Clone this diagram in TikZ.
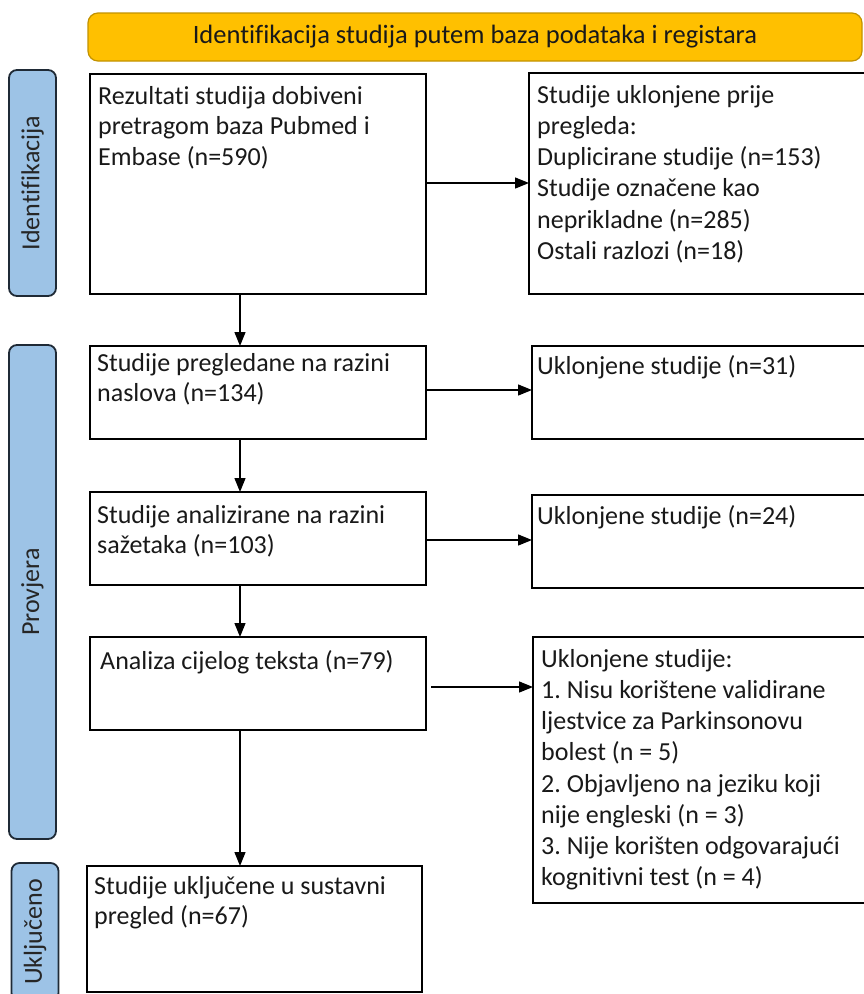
\documentclass[tikz,border=0pt]{standalone}
\usepackage{fontspec}
\setmainfont{Carlito}[Ligatures=CommonOff]
\usetikzlibrary{arrows.meta}
\definecolor{bangold}{HTML}{FFC000}
\definecolor{banline}{HTML}{C29200}
\definecolor{sideblue}{HTML}{9DC3E6}
\definecolor{sideline}{HTML}{1F2A36}
\newcommand{\mystrut}{\rule{0pt}{20pt}}
\frenchspacing
\begin{document}
\begin{tikzpicture}[x=1pt,y=-1pt,
  box/.style={draw=black,line width=1.8pt,anchor=north west,inner sep=0pt,outer sep=0pt},
  txt/.style={anchor=north west,inner sep=0pt,align=left,font=\fontsize{26}{30.5}\selectfont\frenchspacing,text=black!90},
  wide/.style={font=\fontsize{26}{31.2}\selectfont\frenchspacing},
  side/.style={draw=sideline,fill=sideblue,line width=1.8pt,rounded corners=8pt,rotate=90,inner sep=0pt,font=\fontsize{26}{30}\selectfont,text=black!85},
  banner/.style={draw=banline,fill=bangold,line width=1.2pt,rounded corners=10pt,inner sep=0pt,font=\fontsize{26.5}{30}\selectfont,text=black!90},
  arr/.style={line width=1.3pt,-{Triangle[length=14pt,width=11pt]}}]
\useasboundingbox (0,0) rectangle (863,994);

% banner
\node[banner,minimum width=774pt,minimum height=48pt] (ban) at (475,37) {Identifikacija studija putem baza podataka i registara};

% side labels
\node[side,minimum width=226pt,minimum height=47pt] (s1) at (32.5,183) {Identifikacija};
\node[side,minimum width=494pt,minimum height=47pt] (s2) at (32.5,592) {Provjera};
\node[side,minimum width=138pt,minimum height=47pt] (s3) at (35,932) {Uključeno};

% left boxes
\node[box,minimum width=336pt,minimum height=220pt] (b1) at (90,74) {};
\node[box,minimum width=336pt,minimum height=93pt] (b2) at (90,346) {};
\node[box,minimum width=336pt,minimum height=93pt] (b3) at (90,492) {};
\node[box,minimum width=336pt,minimum height=93pt] (b4) at (90,637) {};
\node[box,minimum width=335pt,minimum height=126pt] (b5) at (87,866) {};

% right boxes
\node[box,minimum width=346pt,minimum height=221pt] (r1) at (529,73) {};
\node[box,minimum width=343pt,minimum height=93pt] (r2) at (532,346) {};
\node[box,minimum width=343pt,minimum height=93pt] (r3) at (532,495) {};
\node[box,minimum width=342pt,minimum height=266pt] (r4) at (533,637) {};

% texts
\node[txt] (t1) at (98,84) {\mystrut Rezultati studija dobiveni\\pretragom baza Pubmed i\\Embase (n=590)};
\node[txt] (t2) at (97,351) {\mystrut Studije pregledane na razini\\naslova (n=134)};
\node[txt] (t3) at (97,503) {\mystrut Studije analizirane na razini\\sažetaka (n=103)};
\node[txt] (t4) at (100,649) {\mystrut Analiza cijelog teksta (n=79)};
\node[txt] (t5) at (94,874) {\mystrut Studije uključene u sustavni\\pregled (n=67)};
\node[txt,wide] (u1) at (537,83) {\mystrut Studije uklonjene prije\\pregleda:\\Duplicirane studije (n=153)\\Studije označene kao\\neprikladne (n=285)\\Ostali razlozi (n=18)};
\node[txt] (u2) at (537,354) {\mystrut Uklonjene studije (n=31)};
\node[txt] (u3) at (537,504) {\mystrut Uklonjene studije (n=24)};
\node[txt,wide] (u4) at (541,647) {\mystrut Uklonjene studije:\\1. Nisu korištene validirane\\ljestvice za Parkinsonovu\\bolest (n = 5)\\2. Objavljeno na jeziku koji\\nije engleski (n = 3)\\3. Nije korišten odgovarajući\\kognitivni test (n = 4)};

% arrows
\coordinate (ax) at (240,0);
\coordinate (y1) at (0,183);
\coordinate (y2) at (0,390);
\coordinate (y3) at (0,540);
\coordinate (y4) at (0,687);
\draw[arr] (b1.south -| ax) -- (b2.north -| ax);
\draw[arr] (b2.south -| ax) -- (b3.north -| ax);
\draw[arr] (b3.south -| ax) -- (b4.north -| ax);
\draw[arr] (b4.south -| ax) -- (b5.north -| ax);
\draw[arr] (b1.east |- y1) -- (r1.west |- y1);
\draw[arr] (b2.east |- y2) -- (r2.west |- y2);
\draw[arr] (b3.east |- y3) -- (r3.west |- y3);
\draw[arr,shorten <=5pt] (b4.east |- y4) -- (r4.west |- y4);
\end{tikzpicture}
\end{document}
